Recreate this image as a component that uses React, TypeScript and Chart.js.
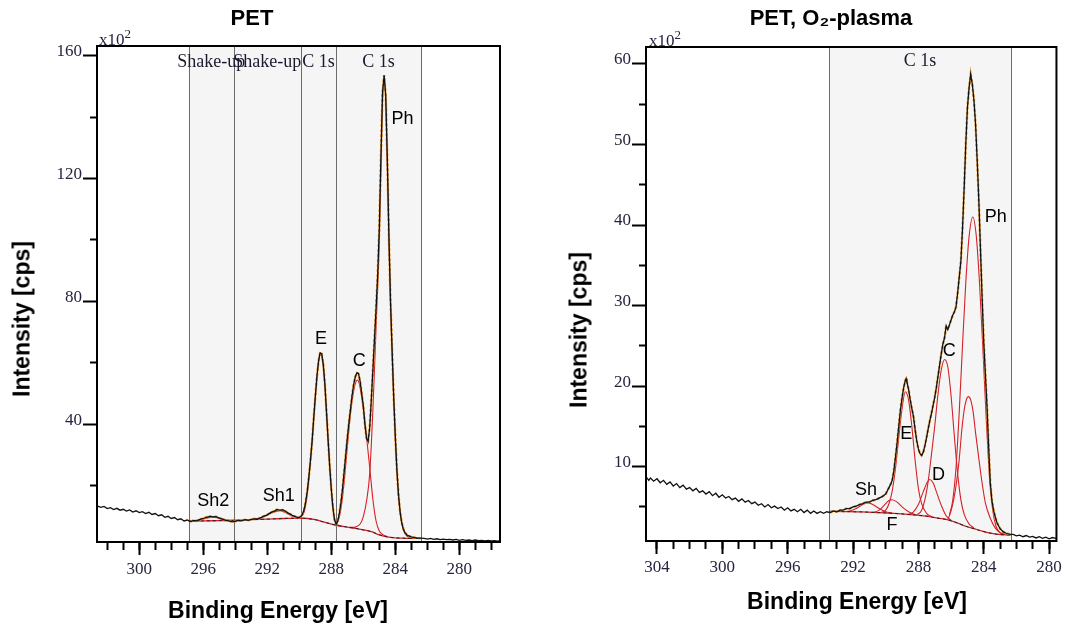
import React, { useEffect, useRef } from "react";
import { Chart, registerables } from "chart.js";

Chart.register(...registerables);

type Pt = [number, number];
type PeakLabel = { text: string; x: number; y: number };

// ================= PET (untreated) — C 1s region, intensity in x10^2 cps =================
const petSpectrum: Pt[] = [
  [302.6, 13.4], [302.4, 13.0], [302.2, 13.3], [302.0, 12.6], [301.8, 12.9], [301.6, 12.3], [301.4, 12.7],
  [301.2, 12.1], [301.0, 12.4], [300.8, 11.8], [300.6, 12.2], [300.4, 11.5], [300.2, 11.9], [300.0, 11.3],
  [299.8, 11.6], [299.6, 11.0], [299.4, 11.4], [299.2, 10.7], [299.0, 11.0], [298.8, 10.3], [298.6, 10.6],
  [298.4, 9.8], [298.2, 10.1], [298.0, 9.4], [297.8, 9.7], [297.6, 9.0], [297.4, 9.3], [297.2, 8.6],
  [297.0, 8.9], [296.8, 8.4], [296.6, 8.8], [296.4, 8.6], [296.2, 9.1], [296.0, 9.4], [295.8, 9.8],
  [295.6, 10.1], [295.4, 9.9], [295.2, 10.0], [295.0, 9.5], [294.8, 9.2], [294.6, 8.8], [294.4, 8.6],
  [294.2, 8.3], [294.0, 8.5], [293.8, 8.8], [293.6, 8.6], [293.4, 9.0], [293.2, 8.8], [293.0, 9.1],
  [292.8, 9.3], [292.6, 9.2], [292.4, 9.7], [292.2, 10.2], [292.0, 10.6], [291.8, 11.3], [291.6, 11.7],
  [291.4, 12.3], [291.2, 12.1], [291.0, 12.2], [290.8, 11.5], [290.6, 10.9], [290.4, 10.3], [290.2, 9.9],
  [290.0, 9.7], [289.9, 10.1], [289.8, 10.8], [289.7, 12.3], [289.6, 14.8], [289.5, 18.3], [289.4, 23.0],
  [289.3, 28.5], [289.2, 34.5], [289.1, 42.0], [289.0, 49.0], [288.9, 55.5], [288.8, 60.5], [288.7, 63.3],
  [288.6, 63.0], [288.5, 59.5], [288.4, 53.0], [288.3, 44.0], [288.2, 35.0], [288.1, 26.5], [288.0, 19.0],
  [287.9, 13.0], [287.8, 9.0], [287.7, 7.5], [287.6, 8.5], [287.5, 11.0], [287.4, 14.5], [287.3, 19.0],
  [287.2, 24.5], [287.1, 30.0], [287.0, 35.5], [286.9, 40.5], [286.8, 45.0], [286.7, 49.5], [286.6, 53.0],
  [286.5, 55.5], [286.4, 56.8], [286.3, 56.5], [286.2, 54.0], [286.1, 50.0], [286.0, 46.0], [285.9, 40.0],
  [285.8, 35.5], [285.7, 34.5], [285.6, 39.0], [285.5, 48.0], [285.4, 58.0], [285.3, 68.0], [285.2, 78.0],
  [285.1, 89.0], [285.0, 104.0], [284.9, 127.0], [284.8, 148.0], [284.7, 153.6], [284.6, 147.0],
  [284.5, 126.0], [284.4, 101.0], [284.3, 80.0], [284.2, 64.0], [284.1, 48.5], [284.0, 36.0], [283.9, 25.0],
  [283.8, 17.0], [283.7, 11.5], [283.6, 8.0], [283.5, 6.0], [283.4, 4.8], [283.3, 4.2], [283.2, 3.8],
  [283.0, 3.4], [282.8, 3.2], [282.6, 3.0], [282.4, 3.0], [282.2, 2.9], [282.0, 2.7], [281.8, 2.9],
  [281.6, 2.6], [281.4, 2.8], [281.2, 2.5], [281.0, 2.7], [280.8, 2.5], [280.6, 2.6], [280.4, 2.4],
  [280.2, 2.6], [280.0, 2.3], [279.8, 2.5], [279.6, 2.3], [279.4, 2.4], [279.2, 2.2], [279.0, 2.4],
  [278.8, 2.2], [278.6, 2.3], [278.4, 2.1], [278.2, 2.3], [278.0, 2.1], [277.8, 2.2], [277.6, 2.0], [277.45, 2.2],
];
const petBackground: Pt[] = [
  [296.9, 8.5], [296.0, 8.6], [295.0, 8.7], [294.0, 8.8], [293.0, 9.0], [292.0, 9.2], [291.0, 9.4],
  [290.0, 9.5], [289.5, 9.4], [289.0, 9.0], [288.5, 8.3], [288.0, 7.6], [287.5, 7.0], [287.0, 6.6],
  [286.5, 6.2], [286.0, 5.7], [285.5, 5.1], [285.0, 4.1], [284.5, 3.4], [284.0, 3.1], [283.5, 3.0],
  [283.0, 2.9], [282.4, 2.9],
];
const petSh2: Pt[] = [
  [296.9, 8.5], [296.5, 8.7], [296.1, 9.1], [295.7, 9.6], [295.4, 9.8], [295.1, 9.6], [294.7, 9.1],
  [294.3, 8.8], [293.9, 8.8],
];
const petSh1: Pt[] = [
  [293.2, 9.0], [292.7, 9.3], [292.2, 10.0], [291.8, 11.0], [291.4, 11.8], [291.2, 11.9], [290.9, 11.4],
  [290.5, 10.3], [290.1, 9.6], [289.7, 9.4],
];
const petE: Pt[] = [
  [290.2, 9.5], [289.9, 9.9], [289.7, 11.5], [289.5, 17.5], [289.3, 28.0], [289.1, 41.5], [288.9, 55.0],
  [288.75, 62.0], [288.66, 63.0], [288.55, 61.0], [288.4, 52.5], [288.2, 34.5], [288.0, 18.5],
  [287.85, 10.5], [287.7, 7.8], [287.5, 7.1], [287.2, 6.8],
];
const petC: Pt[] = [
  [287.8, 7.4], [287.6, 8.3], [287.4, 12.5], [287.2, 21.0], [287.0, 32.5], [286.8, 43.5], [286.6, 51.0],
  [286.45, 54.0], [286.35, 54.4], [286.2, 52.0], [286.0, 45.0], [285.8, 36.0], [285.6, 26.0], [285.4, 15.5],
  [285.2, 8.5], [285.0, 5.3], [284.8, 4.2], [284.5, 3.5],
];
const petPh: Pt[] = [
  [286.8, 6.5], [286.5, 6.6], [286.2, 7.6], [286.0, 10.0], [285.8, 15.0], [285.6, 24.0], [285.4, 45.0],
  [285.2, 72.0], [285.0, 100.0], [284.9, 124.0], [284.8, 145.0], [284.7, 152.5], [284.6, 146.0],
  [284.5, 125.0], [284.4, 100.0], [284.3, 79.0], [284.2, 63.0], [284.0, 35.0], [283.8, 16.5], [283.6, 7.8],
  [283.4, 4.5], [283.2, 3.4], [283.0, 3.0], [282.7, 2.9],
];
const petBandEdges = [296.9, 294.1, 289.9, 287.7, 282.4];
const petBandLabels = ["Shake-up", "Shake-up", "C 1s", "C 1s"];
const petPeakLabels: PeakLabel[] = [
  { text: "Ph", x: 283.55, y: 139.3 },
  { text: "E", x: 288.64, y: 67.9 },
  { text: "C", x: 286.25, y: 60.6 },
  { text: "Sh1", x: 291.28, y: 16.7 },
  { text: "Sh2", x: 295.38, y: 15.2 },
];
const petXMajor = [300, 296, 292, 288, 284, 280];
const petXMinor = [302, 301, 300, 299, 298, 297, 296, 295, 294, 293, 292, 291, 290, 289, 288, 287, 286, 285, 284, 283, 282, 281, 280, 279, 278];
const petYMajor = [40, 80, 120, 160];
const petYMinor = [20, 60, 100, 140];

// ================= PET, O2-plasma — C 1s region, intensity in x10^2 cps =================
const o2Spectrum: Pt[] = [
  [304.65, 8.7], [304.5, 8.3], [304.4, 8.6], [304.2, 8.2], [304.0, 8.5], [303.8, 8.0], [303.6, 8.3],
  [303.4, 7.8], [303.2, 8.1], [303.0, 7.6], [302.8, 7.9], [302.6, 7.4], [302.4, 7.7], [302.2, 7.2],
  [302.0, 7.4], [301.8, 7.0], [301.6, 7.3], [301.4, 6.8], [301.2, 7.0], [301.0, 6.6], [300.8, 6.9],
  [300.6, 6.4], [300.4, 6.7], [300.2, 6.2], [300.0, 6.5], [299.8, 6.1], [299.6, 6.3], [299.4, 5.9],
  [299.2, 6.1], [299.0, 5.7], [298.8, 6.0], [298.6, 5.6], [298.4, 5.8], [298.2, 5.4], [298.0, 5.6],
  [297.8, 5.2], [297.6, 5.4], [297.4, 5.0], [297.2, 5.3], [297.0, 4.9], [296.8, 5.1], [296.6, 4.8],
  [296.4, 5.0], [296.2, 4.6], [296.0, 4.9], [295.8, 4.5], [295.6, 4.7], [295.4, 4.4], [295.2, 4.7],
  [295.0, 4.3], [294.8, 4.6], [294.6, 4.2], [294.4, 4.5], [294.2, 4.2], [294.0, 4.4], [293.8, 4.2],
  [293.6, 4.4], [293.4, 4.3], [293.2, 4.5], [293.0, 4.4], [292.8, 4.6], [292.6, 4.6], [292.4, 4.8],
  [292.2, 4.8], [292.0, 5.0], [291.8, 5.1], [291.6, 5.3], [291.4, 5.4], [291.2, 5.6], [291.0, 5.6],
  [290.8, 5.8], [290.6, 5.9], [290.4, 6.1], [290.2, 6.3], [290.0, 6.6], [289.9, 7.0], [289.8, 7.4],
  [289.7, 7.8], [289.6, 8.3], [289.5, 9.5], [289.4, 11.2], [289.3, 13.0], [289.2, 15.0], [289.1, 17.0],
  [289.0, 18.5], [288.9, 19.8], [288.8, 20.7], [288.75, 20.9], [288.7, 20.5], [288.6, 19.6], [288.5, 18.3],
  [288.4, 17.2], [288.3, 16.2], [288.2, 14.6], [288.1, 13.2], [288.0, 12.2], [287.9, 11.6], [287.8, 11.4],
  [287.7, 11.8], [287.6, 12.6], [287.5, 13.6], [287.4, 14.7], [287.3, 15.7], [287.2, 16.6], [287.1, 17.6],
  [287.0, 18.6], [286.9, 19.8], [286.8, 21.2], [286.7, 22.6], [286.6, 24.0], [286.5, 25.2], [286.4, 26.0],
  [286.3, 27.5], [286.2, 27.0], [286.1, 27.6], [286.0, 28.2], [285.9, 28.8], [285.8, 29.2], [285.7, 29.8],
  [285.6, 31.5], [285.5, 33.5], [285.4, 35.5], [285.3, 39.5], [285.2, 44.5], [285.1, 50.0], [285.0, 54.5],
  [284.9, 57.0], [284.8, 58.7], [284.7, 57.5], [284.6, 55.5], [284.5, 52.5], [284.4, 48.0], [284.3, 43.0],
  [284.2, 37.0], [284.1, 31.0], [284.0, 25.5], [283.9, 21.5], [283.8, 17.5], [283.7, 12.5], [283.6, 8.0],
  [283.5, 5.8], [283.4, 4.6], [283.3, 3.8], [283.2, 3.1], [283.0, 2.3], [282.8, 1.9], [282.6, 1.7],
  [282.4, 1.6], [282.2, 1.6], [282.0, 1.4], [281.8, 1.5], [281.6, 1.3], [281.4, 1.45], [281.2, 1.25],
  [281.0, 1.35], [280.8, 1.15], [280.6, 1.3], [280.4, 1.1], [280.2, 1.25], [280.0, 1.05], [279.8, 1.2],
  [279.6, 1.1], [279.5, 1.15],
];
const o2Background: Pt[] = [
  [293.45, 4.45], [292.5, 4.42], [291.5, 4.38], [290.5, 4.3], [289.5, 4.2], [288.5, 4.05], [287.5, 3.85],
  [286.8, 3.6], [286.2, 3.4], [285.6, 3.0], [285.1, 2.6], [284.6, 2.3], [284.1, 2.0], [283.6, 1.75],
  [283.1, 1.58], [282.35, 1.5],
];
const o2Sh: Pt[] = [
  [292.6, 4.42], [292.2, 4.5], [291.8, 4.8], [291.4, 5.3], [291.1, 5.5], [290.8, 5.3], [290.4, 4.8],
  [290.0, 4.4], [289.6, 4.2],
];
const o2Sh2: Pt[] = [
  [290.8, 4.3], [290.4, 4.6], [290.1, 5.2], [289.8, 5.8], [289.6, 5.9], [289.3, 5.6], [289.0, 5.0],
  [288.6, 4.4], [288.2, 4.05],
];
const o2E: Pt[] = [
  [290.3, 4.3], [290.0, 4.6], [289.8, 5.4], [289.6, 7.0], [289.4, 9.8], [289.2, 13.6], [289.0, 17.2],
  [288.8, 19.3], [288.6, 18.3], [288.4, 15.0], [288.2, 10.8], [288.0, 7.3], [287.8, 5.4], [287.5, 4.2],
  [287.2, 3.8],
];
const o2D: Pt[] = [
  [288.6, 4.05], [288.3, 4.4], [288.0, 5.3], [287.7, 6.9], [287.45, 8.1], [287.3, 8.4], [287.1, 8.0],
  [286.9, 6.9], [286.6, 5.2], [286.3, 3.9], [286.0, 3.35],
];
const o2C: Pt[] = [
  [288.1, 4.0], [287.8, 4.6], [287.6, 5.9], [287.4, 8.2], [287.2, 11.5], [287.0, 15.0], [286.8, 19.0],
  [286.6, 22.0], [286.4, 23.3], [286.2, 22.4], [286.0, 18.8], [285.8, 13.8], [285.6, 9.2], [285.4, 5.9],
  [285.2, 4.1], [284.9, 2.9], [284.6, 2.4],
];
const o2Ph2: Pt[] = [
  [286.2, 3.4], [286.0, 4.5], [285.8, 6.3], [285.65, 8.3], [285.5, 10.9], [285.35, 14.4], [285.2, 17.0],
  [285.05, 18.4], [284.94, 18.7], [284.8, 18.3], [284.65, 16.8], [284.5, 14.2], [284.3, 11.0], [284.13, 8.4],
  [283.9, 5.5], [283.6, 3.6], [283.3, 2.4], [283.0, 1.8], [282.7, 1.6],
];
const o2Ph: Pt[] = [
  [286.1, 4.0], [285.9, 5.8], [285.7, 9.8], [285.5, 16.8], [285.3, 25.0], [285.1, 32.8], [284.9, 38.5],
  [284.67, 41.0], [284.45, 38.5], [284.25, 32.5], [284.05, 24.5], [283.85, 16.0], [283.65, 8.8],
  [283.45, 4.6], [283.25, 2.6], [283.0, 1.8], [282.7, 1.55],
];
const o2BandEdges = [293.45, 282.35];
const o2BandLabels = ["C 1s"];
const o2PeakLabels: PeakLabel[] = [
  { text: "Ph", x: 283.26, y: 40.96 },
  { text: "C", x: 286.11, y: 24.4 },
  { text: "E", x: 288.74, y: 14.1 },
  { text: "D", x: 286.77, y: 9.0 },
  { text: "Sh", x: 291.2, y: 7.1 },
  { text: "F", x: 289.61, y: 2.77 },
];
const o2XMajor = [304, 300, 296, 292, 288, 284, 280];
const o2XMinor = [304, 303, 302, 301, 300, 299, 298, 297, 296, 295, 294, 293, 292, 291, 290, 289, 288, 287, 286, 285, 284, 283, 282, 281, 280];
const o2YMajor = [10, 20, 30, 40, 50, 60];
const o2YMinor = [5, 15, 25, 35, 45, 55];

// ================= styling / layout =================
const SERIF = '"Liberation Serif", "Times New Roman", Times, serif';
const SANS = '"Liberation Sans", Arial, Helvetica, sans-serif';
const TICK_COLOR = "#25253f";
const RED = "#d42128";

interface PanelSpec {
  spectrum: Pt[];
  background: Pt[];
  components: Pt[][];
  bandEdges: number[];
  bandLabels: string[];
  peakLabels: PeakLabel[];
  xMajor: number[];
  xMinor: number[];
  yMajor: number[];
  yMinor: number[];
  xMin: number;
  xMax: number;
  yMin: number;
  yMax: number;
  left: number;
  width: number;
  padTop: number;
  padRight: number;
  yAxisWidth: number;
  xAxisHeight: number;
  xLabelPad: number;
  bandLabelDy: number;
}

const petSpec: PanelSpec = {
  spectrum: petSpectrum,
  background: petBackground,
  components: [petSh2, petSh1, petE, petC, petPh],
  bandEdges: petBandEdges,
  bandLabels: petBandLabels,
  peakLabels: petPeakLabels,
  xMajor: petXMajor,
  xMinor: petXMinor,
  yMajor: petYMajor,
  yMinor: petYMinor,
  xMin: 277.46,
  xMax: 302.64,
  yMin: 1.75,
  yMax: 163.1,
  left: 0,
  width: 530,
  padTop: 46,
  padRight: 30,
  yAxisWidth: 97,
  xAxisHeight: 84,
  xLabelPad: 4,
  bandLabelDy: 16,
};

const o2Spec: PanelSpec = {
  spectrum: o2Spectrum,
  background: o2Background,
  components: [o2Sh, o2Sh2, o2E, o2D, o2C, o2Ph2, o2Ph],
  bandEdges: o2BandEdges,
  bandLabels: o2BandLabels,
  peakLabels: o2PeakLabels,
  xMajor: o2XMajor,
  xMinor: o2XMinor,
  yMajor: o2YMajor,
  yMinor: o2YMinor,
  xMin: 279.55,
  xMax: 304.67,
  yMin: 0.77,
  yMax: 62.1,
  left: 530,
  width: 535,
  padTop: 47,
  padRight: 6,
  yAxisWidth: 116,
  xAxisHeight: 85,
  xLabelPad: 3,
  bandLabelDy: 14.5,
};

const toXY = (pts: Pt[]) => pts.map(([x, y]) => ({ x, y }));

function decorPlugin(spec: PanelSpec) {
  return {
    id: "xpsDecor",
    beforeDatasetsDraw(chart: any) {
      const { ctx, chartArea: a, scales } = chart;
      const px = spec.bandEdges.map((e) => scales.x.getPixelForValue(e));
      const x0 = Math.min(...px);
      const x1 = Math.max(...px);
      ctx.save();
      ctx.fillStyle = "#f5f5f5";
      ctx.fillRect(x0, a.top, x1 - x0, a.bottom - a.top);
      ctx.strokeStyle = "#6b6b6b";
      ctx.lineWidth = 1;
      px.forEach((p) => {
        const xx = Math.round(p) + 0.5;
        ctx.beginPath();
        ctx.moveTo(xx, a.top);
        ctx.lineTo(xx, a.bottom);
        ctx.stroke();
      });
      ctx.restore();
    },
    afterDatasetsDraw(chart: any) {
      const { ctx, chartArea: a, scales } = chart;
      ctx.save();
      ctx.textAlign = "center";
      ctx.textBaseline = "middle";
      ctx.font = `18px ${SERIF}`;
      ctx.fillStyle = "#1b1b30";
      for (let i = 0; i < spec.bandLabels.length; i++) {
        const cx = (scales.x.getPixelForValue(spec.bandEdges[i]) + scales.x.getPixelForValue(spec.bandEdges[i + 1])) / 2;
        ctx.fillText(spec.bandLabels[i], cx, a.top + spec.bandLabelDy);
      }
      ctx.font = `18px ${SANS}`;
      ctx.fillStyle = "#000";
      spec.peakLabels.forEach((l) => {
        ctx.fillText(l.text, scales.x.getPixelForValue(l.x), scales.y.getPixelForValue(l.y));
      });
      ctx.lineWidth = 2;
      ctx.strokeStyle = "#000";
      ctx.strokeRect(a.left, a.top, a.right - a.left, a.bottom - a.top);
      ctx.restore();
    },
  };
}

function buildConfig(spec: PanelSpec): any {
  const lo = spec.bandEdges[spec.bandEdges.length - 1];
  const hi = spec.bandEdges[0];
  const envelope = spec.spectrum.filter(([e]) => e <= hi && e >= lo);
  const datasets: any[] = [
    { label: "measured", data: toXY(spec.spectrum), borderColor: "#111", borderWidth: 1.3, order: 0 },
    { label: "envelope", data: toXY(envelope), borderColor: "#e39a2b", borderWidth: 2.4, borderDash: [3, 2], order: 1 },
    { label: "background-dash", data: toXY(spec.background), borderColor: "#222", borderWidth: 1, borderDash: [3, 3], cubicInterpolationMode: "monotone", order: 2 },
    { label: "background", data: toXY(spec.background), borderColor: RED, borderWidth: 1.3, cubicInterpolationMode: "monotone", order: 3 },
    ...spec.components.map((c, i) => ({
      label: "component" + i,
      data: toXY(c),
      borderColor: RED,
      borderWidth: 1.1,
      cubicInterpolationMode: "monotone",
      order: 4 + i,
    })),
  ].map((d) => ({ pointRadius: 0, fill: false, tension: 0, ...d }));

  const tickFont = { family: SERIF, size: 17 };
  const common = { type: "linear", bounds: "data" };
  return {
    type: "line",
    data: { datasets },
    options: {
      responsive: false,
      animation: false,
      events: [],
      layout: { padding: { top: spec.padTop, right: spec.padRight, left: 0, bottom: 0 } },
      plugins: { legend: { display: false }, tooltip: { enabled: false }, title: { display: false } },
      scales: {
        x: {
          ...common,
          position: "bottom",
          reverse: true,
          min: spec.xMin,
          max: spec.xMax,
          weight: 1,
          afterBuildTicks: (s: any) => { s.ticks = spec.xMajor.map((v) => ({ value: v })); },
          afterFit: (s: any) => { s.height = spec.xAxisHeight; },
          ticks: { autoSkip: false, maxRotation: 0, minRotation: 0, padding: spec.xLabelPad, font: tickFont, color: TICK_COLOR },
          grid: { display: true, drawOnChartArea: false, drawTicks: true, tickLength: 13, tickWidth: 2, tickColor: "#000" },
          border: { display: false },
        },
        xMinor: {
          ...common,
          position: "bottom",
          reverse: true,
          min: spec.xMin,
          max: spec.xMax,
          weight: 0,
          afterBuildTicks: (s: any) => { s.ticks = spec.xMinor.map((v) => ({ value: v })); },
          afterFit: (s: any) => { s.height = 0; },
          ticks: { display: false, autoSkip: false },
          grid: { display: true, drawOnChartArea: false, drawTicks: true, tickLength: 8, tickWidth: 2, tickColor: "#000" },
          border: { display: false },
        },
        y: {
          ...common,
          position: "left",
          min: spec.yMin,
          max: spec.yMax,
          weight: 1,
          afterBuildTicks: (s: any) => { s.ticks = spec.yMajor.map((v) => ({ value: v })); },
          afterFit: (s: any) => { s.width = spec.yAxisWidth; },
          ticks: { autoSkip: false, padding: 1, labelOffset: -4, font: tickFont, color: TICK_COLOR },
          grid: { display: true, drawOnChartArea: false, drawTicks: true, tickLength: 14, tickWidth: 2, tickColor: "#000" },
          border: { display: false },
        },
        yMinor: {
          ...common,
          position: "left",
          min: spec.yMin,
          max: spec.yMax,
          weight: 0,
          afterBuildTicks: (s: any) => { s.ticks = spec.yMinor.map((v) => ({ value: v })); },
          afterFit: (s: any) => { s.width = 0; },
          ticks: { display: false, autoSkip: false },
          grid: { display: true, drawOnChartArea: false, drawTicks: true, tickLength: 7, tickWidth: 2, tickColor: "#000" },
          border: { display: false },
        },
      },
    },
    plugins: [decorPlugin(spec)],
  };
}

function SpectrumPanel({ spec }: { spec: PanelSpec }) {
  const ref = useRef<HTMLCanvasElement | null>(null);
  useEffect(() => {
    if (!ref.current) return;
    const chart = new Chart(ref.current, buildConfig(spec));
    return () => chart.destroy();
  }, [spec]);
  return (
    <canvas
      ref={ref}
      width={spec.width}
      height={626}
      style={{ position: "absolute", left: spec.left, top: 0, width: spec.width, height: 626 }}
    />
  );
}

const abs = (extra: React.CSSProperties): React.CSSProperties => ({
  position: "absolute",
  whiteSpace: "nowrap",
  margin: 0,
  ...extra,
});

const titleStyle = (cx: number): React.CSSProperties =>
  abs({ left: cx, top: 7, transform: "translateX(-50%)", font: `bold 22px ${SANS}`, lineHeight: "22px", color: "#000" });

const xTitleStyle = (cx: number, top: number): React.CSSProperties =>
  abs({ left: cx, top, transform: "translateX(-50%)", font: `bold 23px ${SANS}`, lineHeight: "23px", color: "#000" });

const yTitleStyle = (cx: number, cy: number): React.CSSProperties =>
  abs({ left: cx, top: cy, transform: "translate(-50%, -50%) rotate(-90deg)", font: `bold 23px ${SANS}`, lineHeight: "23px", color: "#000" });

const scaleNoteStyle = (left: number, top: number): React.CSSProperties =>
  abs({ left, top, font: `17px ${SERIF}`, lineHeight: "17px", color: TICK_COLOR });

export default function App() {
  return (
    <div style={{ position: "absolute", left: 0, top: 0, width: 1065, height: 626, background: "#fff", overflow: "hidden" }}>
      <SpectrumPanel spec={petSpec} />
      <SpectrumPanel spec={o2Spec} />
      <div style={titleStyle(252)}>PET</div>
      <div style={titleStyle(831)}>PET, O₂-plasma</div>
      <div style={scaleNoteStyle(99, 31)}>
        x10<span style={{ position: "relative", top: -7, fontSize: 13 }}>2</span>
      </div>
      <div style={scaleNoteStyle(649, 32)}>
        x10<span style={{ position: "relative", top: -7, fontSize: 13 }}>2</span>
      </div>
      <div style={yTitleStyle(22, 319)}>Intensity [cps]</div>
      <div style={yTitleStyle(579, 330)}>Intensity [cps]</div>
      <div style={xTitleStyle(278, 599)}>Binding Energy [eV]</div>
      <div style={xTitleStyle(857, 590)}>Binding Energy [eV]</div>
    </div>
  );
}
